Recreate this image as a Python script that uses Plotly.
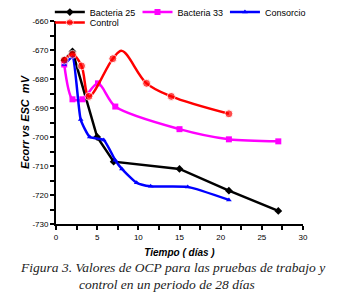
import plotly.graph_objects as go

# Data
b25_x = [1, 2, 5, 7, 15, 21, 27]
b25_y = [-673.5, -670.5, -700, -708.5, -711, -718.5, -725.5]

b33_x = [1, 2, 3.2, 5.1, 7.2, 15, 21, 27]
b33_y = [-675, -687, -687, -681.5, -689.5, -697.3, -700.8, -701.5]

cons_x = [1, 2, 3, 4.1, 5.8, 7.2, 8, 9.8, 11.5, 16, 21]
cons_y = [-675, -672.5, -694, -700, -701, -708, -711, -715.8, -717, -717.2, -721.7]

ctrl_x = [1, 2, 3.1, 4, 6.9, 8, 11, 14, 21]
ctrl_y = [-673.5, -671.5, -675.5, -686, -673, -670.3, -681.5, -686, -692]

y_ticks = [-660, -670, -680, -690, -700, -710, -720, -730]
y_ticktext = ["-660", "-670", "-680", "-690", "-700", "-710", "-720", "-730"]
x_ticks = [0, 5, 10, 15, 20, 25, 30]

SANS = "Liberation Sans, Arial"

# the control curve's crest (x=8) carries no marker in the original
ctrl_sizes = [0 if x == 8 else 8 for x in ctrl_x]

fig = go.Figure()
fig.add_trace(go.Scatter(x=b25_x, y=b25_y, name="Bacteria 25", mode="lines+markers",
                         line=dict(color="#000000", width=2.5),
                         marker=dict(symbol="diamond", size=6, color="#000000"),
                         legend="legend"))
fig.add_trace(go.Scatter(x=b33_x, y=b33_y, name="Bacteria 33", mode="lines+markers",
                         line=dict(color="#FF00FF", width=2.5, shape="spline", smoothing=0.8),
                         marker=dict(symbol="square", size=6, color="#FF00FF"),
                         legend="legend2"))
fig.add_trace(go.Scatter(x=cons_x, y=cons_y, name="Consorcio", mode="lines+markers",
                         line=dict(color="#0000FF", width=2.5, shape="spline", smoothing=0.5),
                         marker=dict(symbol="triangle-up", size=5, color="#0000FF"),
                         legend="legend3"))
fig.add_trace(go.Scatter(x=ctrl_x, y=ctrl_y, name="Control", mode="lines+markers",
                         line=dict(color="#FF0000", width=2.5, shape="spline", smoothing=1.0),
                         marker=dict(symbol="circle", size=ctrl_sizes, color="#FF0000"),
                         legend="legend4"))

leg_common = dict(orientation="h", xanchor="left", yanchor="middle",
                  font=dict(size=9, family=SANS, color="black"),
                  bgcolor="rgba(0,0,0,0)", itemwidth=30)

fig.update_layout(
    width=330, height=294,
    margin=dict(l=48, r=35, t=13, b=78, autoexpand=False),
    paper_bgcolor="white", plot_bgcolor="white",
    font=dict(family=SANS, color="black", size=10),
    showlegend=True,
    legend=dict(x=-0.025, y=1.044, **leg_common),
    legend2=dict(x=0.33, y=1.044, **leg_common),
    legend3=dict(x=0.684, y=1.044, **leg_common),
    legend4=dict(x=-0.025, y=0.993, **leg_common),
    xaxis=dict(range=[0, 30], tickvals=x_ticks, showgrid=False, zeroline=False,
               showline=True, linecolor="black", linewidth=2,
               ticks="outside", ticklen=4, tickwidth=1.5, tickcolor="black",
               minor=dict(dtick=2.5, ticks="outside", ticklen=4, tickwidth=1.5, tickcolor="black"),
               tickfont=dict(size=8, family=SANS),
               title=dict(text="Tiempo ( días )", standoff=8,
                          font=dict(size=10, weight="bold", style="italic"))),
    yaxis=dict(range=[-730, -660], tickvals=y_ticks, ticktext=y_ticktext,
               showgrid=False, zeroline=False,
               showline=True, linecolor="black", linewidth=2,
               ticks="outside", ticklen=4, tickwidth=1.5, tickcolor="black",
               minor=dict(dtick=5, ticks="outside", ticklen=4, tickwidth=1.5, tickcolor="black"),
               tickfont=dict(size=8, family=SANS),
               title=dict(text="Ecorr vs ESC  mV", standoff=1,
                          font=dict(size=11, weight="bold", style="italic"))),
)

caption_font = dict(family="Liberation Serif, Times New Roman, serif", size=13.5,
                    style="italic", color="#222")
fig.add_annotation(
    text="Figura 3. Valores de OCP para las pruebas de trabajo y",
    xref="paper", yref="paper", x=0.47, y=-0.212, xanchor="center", yanchor="middle",
    showarrow=False, font=caption_font,
)
fig.add_annotation(
    text="control en un periodo de 28 días",
    xref="paper", yref="paper", x=0.449, y=-0.298, xanchor="center", yanchor="middle",
    showarrow=False, font=caption_font,
)

fig.write_html("out.html")
